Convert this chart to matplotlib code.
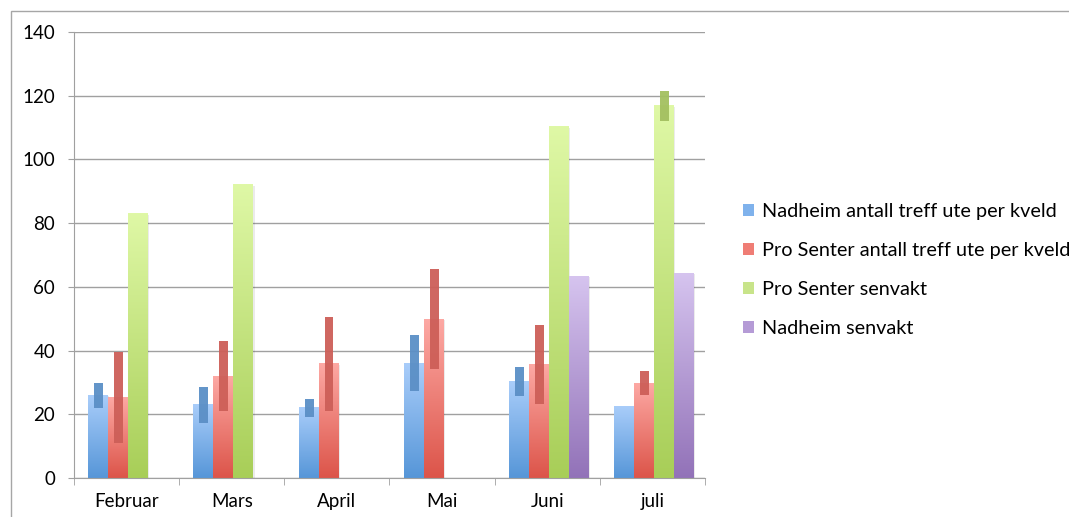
import matplotlib
matplotlib.use("Agg")
import matplotlib.pyplot as plt
import numpy as np
from matplotlib.colors import LinearSegmentedColormap
from matplotlib.patches import Rectangle, Patch

# data
months = ["Februar", "Mars", "April", "Mai", "Juni", "juli"]
series_names = ["Nadheim antall treff ute per kveld",
                "Pro Senter antall treff ute per kveld",
                "Pro Senter senvakt",
                "Nadheim senvakt"]
nadheim_treff = [26, 23, 22, 36, 30.4, 22.3]
pro_treff = [25.4, 32, 35.8, 49.9, 35.5, 29.8]
pro_senvakt = [83, 92.2, 0, 0, 110.2, 116.8]
nadheim_senvakt = [0, 0, 0, 0, 63.4, 64.3]
nadheim_treff_err = [3.9, 5.7, 2.8, 8.8, 4.6, 0]
pro_treff_err = [14.3, 10.9, 14.7, 15.7, 12.4, 3.9]
pro_senvakt_err = [0, 0, 0, 0, 0, 4.7]
nadheim_senvakt_err = [0, 0, 0, 0, 0, 0]

values = [nadheim_treff, pro_treff, pro_senvakt, nadheim_senvakt]
errors = [nadheim_treff_err, pro_treff_err, pro_senvakt_err, nadheim_senvakt_err]

# (bottom colour, top colour, error bar colour)
colors = [("#5696D8", "#A9CDFA", "#5B8FC6"),
          ("#DC5449", "#FDA9A4", "#CD5F58"),
          ("#A8CE58", "#DFF8A6", "#A3C060"),
          ("#9272B8", "#D6C4EF", "#9272B8")]
legend_colors = ["#7FB2EC", "#EF7D75", "#C8E48A", "#B59BD6"]

plt.rcParams['font.family'] = ['Lato', 'DejaVu Sans']
fs = 13.5

fig = plt.figure(figsize=(10.69, 5.17), dpi=100)
ax = fig.add_axes([74/1069, 39/517, 631/1069, 446/517])

x = np.arange(len(months))
w = 0.19
start = -0.365

for k in range(4):
    bottom_c, top_c, err_c = colors[k]
    cmap = LinearSegmentedColormap.from_list("g%d" % k, [bottom_c, top_c])
    pos = x + start + w * (k + 0.5)
    bars = ax.bar(pos, values[k], w, color=top_c, zorder=2, linewidth=0)
    for rect in bars:
        h = rect.get_height()
        if h <= 0:
            continue
        x0 = rect.get_x()
        # soft shadow on the right
        ax.add_patch(Rectangle((x0 + 0.012, 0), rect.get_width(), h - 0.4,
                               color="#000000", alpha=0.08, lw=0, zorder=1.5))
        grad = np.linspace(0, 1, 256).reshape(-1, 1)
        ax.imshow(grad, extent=(x0, x0 + rect.get_width(), 0, h), origin="lower",
                  aspect="auto", cmap=cmap, zorder=2.1)
    v = np.array(values[k])
    e = np.array(errors[k])
    mask = e > 0
    ax.bar(pos[mask] + 0.005, 2 * e[mask], 0.085, bottom=v[mask] - e[mask],
           color=err_c, alpha=0.95, zorder=3, linewidth=0)

ax.set_xlim(-0.5, 5.5)
ax.set_ylim(0, 140)
ax.set_yticks(np.arange(0, 141, 20))
ax.set_xticks(x)
ax.set_xticklabels(months)
ax.set_xticks(np.arange(-0.5, 6, 1), minor=True)
ax.tick_params(axis="x", which="major", length=0, pad=11, labelsize=fs)
ax.tick_params(axis="x", which="minor", length=5, color="#A0A0A0", direction="out")
ax.tick_params(axis="y", length=4.5, color="#A0A0A0", pad=9, labelsize=fs)
ax.grid(axis="y", color="#A0A0A0", linewidth=1, zorder=0)
ax.set_axisbelow(True)
for s in ["top", "right"]:
    ax.spines[s].set_visible(False)
for s in ["left", "bottom"]:
    ax.spines[s].set_color("#A0A0A0")

handles = [Patch(facecolor=c, edgecolor="none") for c in legend_colors]
fig.legend(handles, series_names, loc="center left", bbox_to_anchor=(733/1069, 1 - 270/517),
           frameon=False, fontsize=14.3, handlelength=0.55, handleheight=0.55,
           handletextpad=0.4, labelspacing=1.12, borderpad=0)

fig.add_artist(Rectangle((11/1069, -0.1), 1.5, 1.1 - 11/517, transform=fig.transFigure,
                         fill=False, edgecolor="#A6A6A6", linewidth=1))

fig.savefig("out.png", dpi=100)
